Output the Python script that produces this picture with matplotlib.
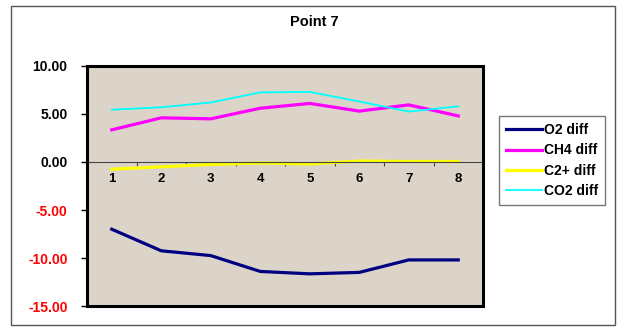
import matplotlib
matplotlib.use('Agg')
import matplotlib.pyplot as plt
from matplotlib.patches import Rectangle

plt.rcParams['font.family'] = ['Liberation Sans', 'DejaVu Sans']
plt.rcParams['font.weight'] = 'bold'

points = [1, 2, 3, 4, 5, 6, 7, 8]
o2_diff = [-7.0, -9.25, -9.75, -11.4, -11.65, -11.5, -10.2, -10.2]
ch4_diff = [3.35, 4.6, 4.5, 5.6, 6.1, 5.3, 5.95, 4.8]
c2_diff = [-0.75, -0.5, -0.25, -0.1, -0.2, 0.1, 0.05, 0.05]
co2_diff = [5.45, 5.7, 6.2, 7.25, 7.3, 6.3, 5.25, 5.8]
y_ticks = [10, 5, 0, -5, -10, -15]

fig = plt.figure(figsize=(6.18, 3.27), dpi=100)
# outer chart frame
fig.patches.append(Rectangle((11 / 618, 2 / 327), 604 / 618, 319 / 327,
                             transform=fig.transFigure, fill=False,
                             edgecolor='#555555', linewidth=1))
fig.text(314 / 618, 1 - 22 / 327, 'Point 7', ha='center', va='center',
         fontsize=10.5, fontweight='bold')

ax = fig.add_axes([87 / 618, 21 / 327, 396 / 618, 240 / 327])
ax.set_facecolor('#DCD4C8')

ax.plot(points, o2_diff, color='#000080', lw=2.3, label='O2 diff')
ax.plot(points, ch4_diff, color='#FF00FF', lw=2.3, label='CH4 diff')
ax.plot(points, c2_diff, color='#FFFF00', lw=2.3, label='C2+ diff')
ax.plot(points, co2_diff, color='#00FFFF', lw=1.3, label='CO2 diff')

ax.set_xlim(0.5, 8.5)
ax.set_ylim(-15, 10)

# category axis crosses at zero
for s in ['top', 'left', 'right']:
    ax.spines[s].set_linewidth(2)
ax.spines['bottom'].set_position(('data', 0))
ax.spines['bottom'].set_linewidth(0.8)
ax.spines['bottom'].set_color('#444444')
ax.add_patch(Rectangle((0, 0), 1, 1, transform=ax.transAxes, fill=False,
                       edgecolor='black', linewidth=2.2, zorder=5, clip_on=False))

ax.set_xticks([p + 0.5 for p in points[:-1]])
ax.set_xticklabels([])
ax.set_xticks(points, minor=True)
ax.set_xticklabels([str(p) for p in points], minor=True, fontsize=9.5, fontweight='bold')
ax.tick_params(axis='x', which='major', direction='out', length=3, color='#444444')
ax.tick_params(axis='x', which='minor', length=0, pad=8)

ax.set_yticks(y_ticks)
ax.set_yticklabels(['%.2f' % v for v in y_ticks], fontsize=10, fontweight='bold')
for lab, v in zip(ax.get_yticklabels(), y_ticks):
    lab.set_color('red' if v < 0 else 'black')
ax.tick_params(axis='y', direction='out', length=4, width=1, pad=10)

leg = ax.legend(loc='center left', bbox_to_anchor=(1.04, 0.606), fontsize=10,
                frameon=True, fancybox=False, edgecolor='#555555',
                handlelength=2.6, handletextpad=0.15, borderpad=0.5,
                labelspacing=0.45, borderaxespad=0)
leg.get_frame().set_linewidth(1)

fig.savefig('out.png', dpi=100)
